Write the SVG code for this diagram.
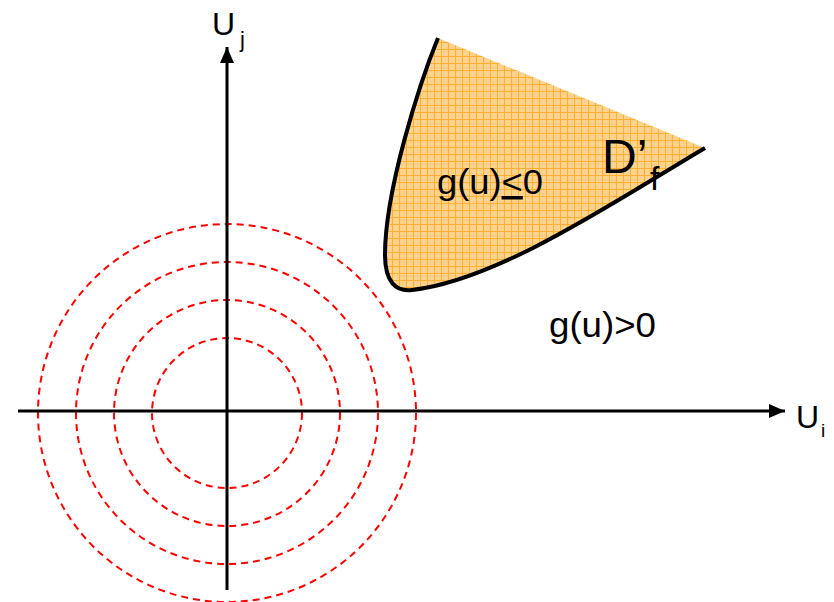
<svg xmlns="http://www.w3.org/2000/svg" width="834" height="602" viewBox="0 0 834 602">
<style>
.ring{fill:none;stroke:#FF0000;stroke-width:2;stroke-dasharray:7,5}
.axis{stroke:#000;stroke-width:3;fill:none}
.t{font-family:"Liberation Sans",Arial,sans-serif;fill:#000}
</style>
<defs>
<marker id="ah" viewBox="0 0 16 14" refX="16" refY="7" markerWidth="16" markerHeight="14" orient="auto" markerUnits="userSpaceOnUse">
<path d="M0,0 L16,7 L0,14 z" fill="#000"/>
</marker>
<pattern id="grid" width="7" height="7" patternUnits="userSpaceOnUse">
<rect width="7" height="7" fill="#FFD28E"/>
<path d="M0,0.5 H7 M0.5,0 V7" stroke="#FFB030" stroke-width="1"/>
</pattern>
</defs>
<rect width="834" height="602" fill="#fff"/>
<g id="rings">
<circle class="ring" cx="227" cy="413" r="75"/>
<circle class="ring" cx="227" cy="413" r="113"/>
<circle class="ring" cx="227" cy="413" r="151"/>
<circle class="ring" cx="227" cy="413" r="189"/>
</g>
<g id="connectors">
<line class="axis" x1="18" y1="411" x2="785" y2="411" marker-end="url(#ah)"/>
<line class="axis" x1="227" y1="590" x2="227" y2="47" marker-end="url(#ah)"/>
</g>
<g id="region">
<path d="M438,38 L705,148 C620,198 500,280 412,290 C396,292 385,282 385,255 C385,190 420,82 438,38 Z" fill="url(#grid)"/>
<path d="M438,38 C420,82 385,190 385,255 C385,282 396,292 412,290 C500,280 620,198 705,148" fill="none" stroke="#000" stroke-width="4"/>
<text class="t" x="437" y="194" font-size="35" textLength="106" lengthAdjust="spacingAndGlyphs">g(u)<tspan text-decoration="underline">&lt;</tspan>0</text>
<text class="t" x="602" y="173" font-size="48">D’</text>
<text class="t" x="650" y="190" font-size="34">f</text>
</g>
<g id="outside">
<text class="t" x="549" y="337" font-size="35" textLength="107" lengthAdjust="spacingAndGlyphs">g(u)&gt;0</text>
</g>
<g id="labels">
<text class="t" x="212" y="35" font-size="32">U</text>
<text class="t" x="240" y="47" font-size="22">j</text>
<text class="t" x="796" y="428" font-size="32">U</text>
<text class="t" x="821" y="437" font-size="19">i</text>
</g>
</svg>
